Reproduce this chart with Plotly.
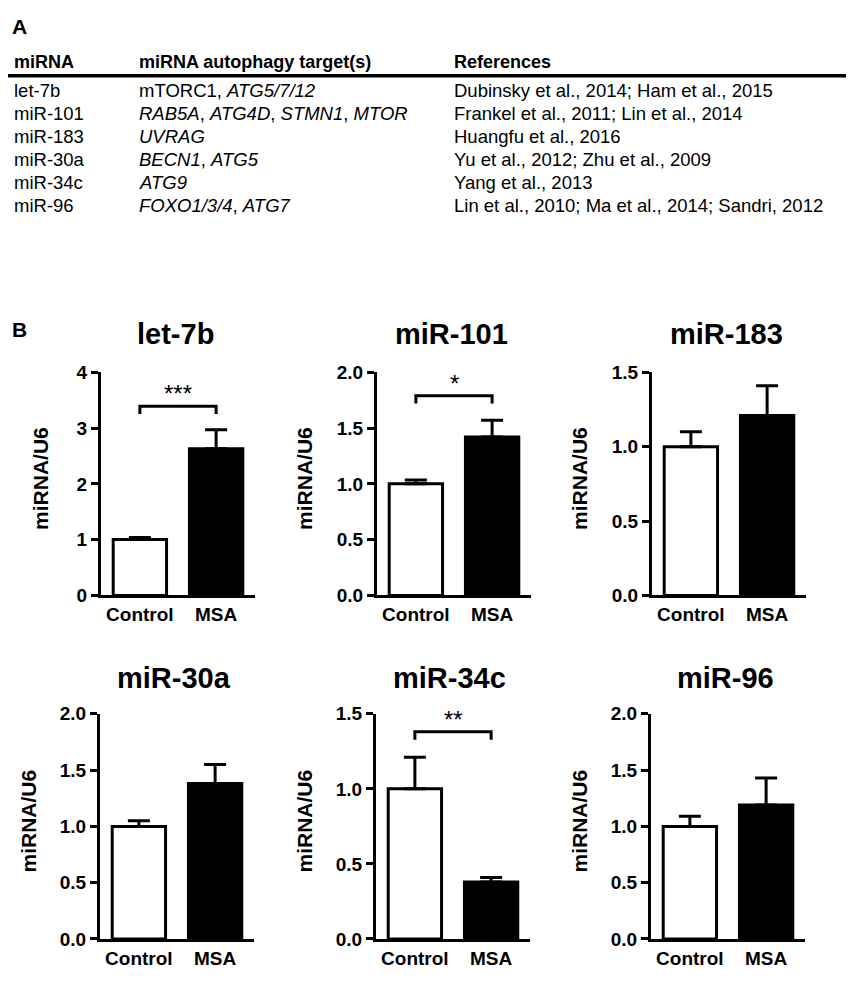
""" Table of miRNA autophagy targets (A) and qPCR bar charts (B)
"""

import plotly.graph_objects as go


# ---- panel A table data ----
TABLE_HEADER = ["miRNA", "miRNA autophagy target(s)", "References"]
TABLE_MIRNA = ["let-7b", "miR-101", "miR-183", "miR-30a", "miR-34c", "miR-96"]
TABLE_TARGETS = [
    "mTORC1, <i>ATG5/7/12</i>",
    "<i>RAB5A</i>, <i>ATG4D</i>, <i>STMN1</i>, <i>MTOR</i>",
    "<i>UVRAG</i>",
    "<i>BECN1</i>, <i>ATG5</i>",
    "<i>ATG9</i>",
    "<i>FOXO1/3/4</i>, <i>ATG7</i>",
]
TABLE_REFS = [
    "Dubinsky et al., 2014; Ham et al., 2015",
    "Frankel et al., 2011; Lin et al., 2014",
    "Huangfu et al., 2016",
    "Yu et al., 2012; Zhu et al., 2009",
    "Yang et al., 2013",
    "Lin et al., 2010; Ma et al., 2014; Sandri, 2012",
]

# ---- panel B bar data ----
GROUPS = ["Control", "MSA"]
PANELS = ["let-7b", "miR-101", "miR-183", "miR-30a", "miR-34c", "miR-96"]
MEANS = [
    [1.00, 2.63],
    [1.00, 1.42],
    [1.00, 1.21],
    [1.00, 1.38],
    [1.00, 0.38],
    [1.00, 1.19],
]
SEM = [
    [0.04, 0.34],
    [0.035, 0.15],
    [0.10, 0.20],
    [0.05, 0.17],
    [0.21, 0.03],
    [0.09, 0.24],
]
Y_MAX = [4, 2.0, 1.5, 2.0, 1.5, 2.0]
Y_STEP = [1, 0.5, 0.5, 0.5, 0.5, 0.5]
SIG_LABEL = ["***", "*", "", "", "**", ""]
SIG_HEIGHT = [3.39, 1.79, None, None, 1.38, None]

# page body keeps an 8px margin, so the figure is drawn 16px smaller
PAD = 8
W, H = 854 - 2 * PAD, 1000 - 2 * PAD
FONT = "Arial, Liberation Sans, sans-serif"


def px_x(p):
    return (p - PAD) / W


def px_y(p):
    return 1 - (p - PAD) / H


fig = go.Figure()
annotations = []
shapes = []

# ---- panel A ----
annotations.append(dict(text="<b>A</b>", x=px_x(10), y=px_y(17), xref="paper",
                        yref="paper", xanchor="left", yanchor="middle",
                        showarrow=False, font=dict(size=21, family=FONT)))
col_x = [12, 137, 452]
for cx, head in zip(col_x, TABLE_HEADER):
    annotations.append(dict(text="<b>%s</b>" % head, x=px_x(cx), y=px_y(53),
                            xref="paper", yref="paper", xanchor="left",
                            yanchor="middle", showarrow=False,
                            font=dict(size=18, family=FONT)))
shapes.append(dict(type="line", xref="paper", yref="paper", x0=px_x(8),
                   x1=px_x(846), y0=px_y(67), y1=px_y(67),
                   line=dict(color="black", width=3.5)))
for i, row in enumerate(zip(TABLE_MIRNA, TABLE_TARGETS, TABLE_REFS)):
    ry = 82.5 + i * 23.5
    for cx, txt in zip(col_x, row):
        annotations.append(dict(text=txt, x=px_x(cx), y=px_y(ry),
                                xref="paper", yref="paper", xanchor="left",
                                yanchor="middle", showarrow=False,
                                font=dict(size=18.5, family=FONT)))

# ---- panel B ----
annotations.append(dict(text="<b>B</b>", x=px_x(10), y=px_y(326), xref="paper",
                        yref="paper", xanchor="left", yanchor="middle",
                        showarrow=False, font=dict(size=21, family=FONT)))

axis_left = [101, 377, 652]
axis_len = 154
row_bottom = [598, 949]
row_top = [370, 719]
title_y = [331, 682]

layout_axes = {}
for i, name in enumerate(PANELS):
    r, c = divmod(i, 3)
    n = "" if i == 0 else str(i + 1)
    xa, ya = "x" + n, "y" + n
    left = axis_left[c] - (1 if r == 1 else 0)
    fig.add_trace(go.Bar(
        x=GROUPS, y=MEANS[i], xaxis=xa, yaxis=ya, width=0.7,
        marker=dict(color=["white", "black"],
                    line=dict(color="black", width=3)),
        error_y=dict(type="data", array=SEM[i], arrayminus=[0, 0],
                     symmetric=False, color="black", thickness=3, width=11),
        showlegend=False, hoverinfo="skip",
    ))
    fmt = "d" if Y_STEP[i] == 1 else ".1f"
    layout_axes["xaxis" + n] = dict(
        domain=[px_x(left), px_x(left + axis_len)], anchor=ya,
        range=[-0.51, 1.51], showline=True, linewidth=3, linecolor="black",
        ticks="", showgrid=False, zeroline=False,
        tickfont=dict(size=19, family=FONT, color="black"),
        tickprefix="<b>", ticksuffix="</b>", ticklabelstandoff=0,
    )
    layout_axes["yaxis" + n] = dict(
        domain=[px_y(row_bottom[r]), px_y(row_top[r])], anchor=xa,
        range=[0, Y_MAX[i]], dtick=Y_STEP[i], tick0=0, tickformat=fmt,
        showline=True, linewidth=3, linecolor="black", ticks="outside",
        ticklen=7, tickwidth=3, tickcolor="black", showgrid=False,
        zeroline=False, tickprefix="<b>", ticksuffix="</b>",
        tickfont=dict(size=19, family=FONT, color="black"),
    )
    # panel title
    annotations.append(dict(text="<b>%s</b>" % name,
                            x=px_x(left + axis_len / 2 - 3), y=px_y(title_y[r]),
                            xref="paper", yref="paper", xanchor="center",
                            yanchor="middle", showarrow=False,
                            font=dict(size=29, family=FONT)))
    # y axis title
    off = 60 if Y_STEP[i] == 1 else 72
    annotations.append(dict(text="<b>miRNA/U6</b>", textangle=-90,
                            x=px_x(left - off),
                            y=px_y((row_bottom[r] + row_top[r]) / 2 - 5),
                            xref="paper", yref="paper", xanchor="center",
                            yanchor="middle", showarrow=False,
                            font=dict(size=21, family=FONT)))
    # significance bracket
    if SIG_LABEL[i]:
        h = SIG_HEIGHT[i]
        drop = Y_MAX[i] * 0.035
        shapes.append(dict(type="path", xref=xa, yref=ya,
                           path="M 0 %f L 0 %f L 1 %f L 1 %f" % (h - drop, h, h, h - drop),
                           line=dict(color="black", width=3)))
        annotations.append(dict(text=SIG_LABEL[i], x=0.5, y=h, xref=xa,
                                yref=ya, xanchor="center", yanchor="bottom",
                                yshift=-3, showarrow=False,
                                font=dict(size=24, family=FONT)))

fig.update_layout(
    width=W, height=H, margin=dict(l=0, r=0, t=0, b=0),
    paper_bgcolor="white", plot_bgcolor="white",
    font=dict(family=FONT, color="black"),
    annotations=annotations, shapes=shapes, bargap=0.3,
    **layout_axes
)

fig.write_html("out.html")
